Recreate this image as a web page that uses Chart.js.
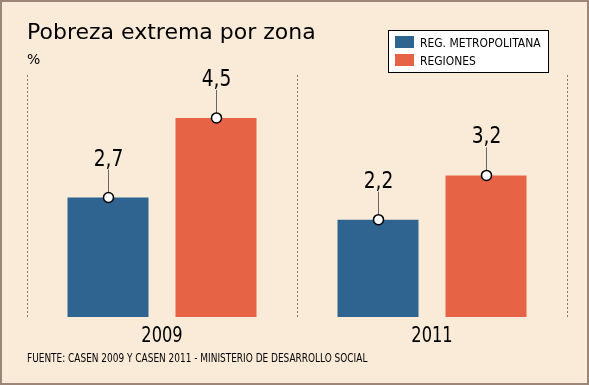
<!DOCTYPE html>
<html>
<head>
<meta charset="utf-8">
<script src="https://cdn.jsdelivr.net/npm/chart.js@4/dist/chart.umd.min.js"></script>
<style>
  html, body { margin: 0; padding: 0; background: #faebd9; }
  #wrap { position: relative; width: 585px; height: 381px; border: 2px solid #9d8577; background: #faebd9; }
  canvas { display: block; }
</style>
</head>
<body>
<div id="wrap"><canvas id="chart" width="585" height="381"></canvas></div>
<script>
const years = ['2009', '2011'];
const metropolitana = [2.7, 2.2];
const regiones = [4.5, 3.2];
const seriesNames = ['REG. METROPOLITANA', 'REGIONES'];
const colors = ['#2f6490', '#e66445'];

const COND = '"DejaVu Sans Condensed", "DejaVu Sans", sans-serif';
const WIDE = '"DejaVu Sans", Verdana, sans-serif';

// text squeezed horizontally, the original face is narrower than anything installed
function narrowText(ctx, text, x, y, font, squeeze, align) {
    ctx.save();
    ctx.font = font;
    ctx.textBaseline = 'alphabetic';
    ctx.textAlign = 'left';
    let w = ctx.measureText(text).width * squeeze;
    let left = align === 'center' ? x - w / 2 : x;
    ctx.translate(left, y);
    ctx.scale(squeeze, 1);
    ctx.fillText(text, 0, 0);
    ctx.restore();
}

// labels with leader line and white dot on top of every bar
const valueLabels = {
    id: 'valueLabels',
    afterDatasetsDraw(chart) {
        const ctx = chart.ctx;
        ctx.save();
        chart.data.datasets.forEach((ds, i) => {
            chart.getDatasetMeta(i).data.forEach((bar, j) => {
                let x = Math.round(bar.x) + 0.5, y = bar.y;
                ctx.strokeStyle = '#666';
                ctx.lineWidth = 1;
                ctx.beginPath();
                ctx.moveTo(x, y);
                ctx.lineTo(x, y - 28);
                ctx.stroke();
                ctx.beginPath();
                ctx.arc(x, y, 5, 0, Math.PI * 2);
                ctx.fillStyle = '#fff';
                ctx.fill();
                ctx.strokeStyle = '#000';
                ctx.lineWidth = 1.5;
                ctx.stroke();
                ctx.fillStyle = '#000';
                narrowText(ctx, String(ds.data[j]).replace('.', ','), x, y - 32, '23px ' + COND, 0.9, 'center');
            });
        });
        ctx.restore();
    }
};

// dashed separators, year labels, title, unit, legend box, source
const decorations = {
    id: 'decorations',
    beforeDatasetsDraw(chart) {
        const ctx = chart.ctx;
        const area = chart.chartArea;
        ctx.save();
        ctx.strokeStyle = '#777';
        ctx.lineWidth = 1;
        ctx.setLineDash([2, 2]);
        const n = years.length;
        for (let k = 0; k <= n; k++) {
            let x = Math.round(area.left + (area.right - area.left) * k / n) + 0.5;
            ctx.beginPath();
            ctx.moveTo(x, area.top);
            ctx.lineTo(x, area.bottom);
            ctx.stroke();
        }
        ctx.restore();
    },
    afterDraw(chart) {
        const ctx = chart.ctx;
        const xScale = chart.scales.x;
        ctx.save();
        ctx.fillStyle = '#000';

        years.forEach((yr, k) => {
            narrowText(ctx, yr, xScale.getPixelForTick(k), chart.chartArea.bottom + 25, '22px ' + COND, 0.82, 'center');
        });

        ctx.textAlign = 'left';
        ctx.textBaseline = 'alphabetic';
        ctx.font = '22px ' + WIDE;
        ctx.fillText('Pobreza extrema por zona', 25, 37);
        ctx.font = '14px ' + WIDE;
        ctx.fillText('%', 25, 62);

        // legend
        ctx.fillStyle = '#fff';
        ctx.fillRect(386, 28, 160, 42);
        ctx.strokeStyle = '#000';
        ctx.lineWidth = 1;
        ctx.strokeRect(386.5, 28.5, 160, 42);
        chart.data.datasets.forEach((ds, i) => {
            ctx.fillStyle = ds.backgroundColor;
            ctx.fillRect(393, 34 + i * 18, 19, 12);
            ctx.fillStyle = '#000';
            narrowText(ctx, ds.label, 418, 45 + i * 18, '13px ' + COND, 0.92, 'left');
        });

        narrowText(ctx, 'FUENTE: CASEN 2009 Y CASEN 2011 - MINISTERIO DE DESARROLLO SOCIAL', 25, 360, '12px ' + COND, 0.83, 'left');
        ctx.restore();
    }
};

new Chart(document.getElementById('chart'), {
    type: 'bar',
    data: {
        labels: years,
        datasets: [
            { label: seriesNames[0], data: metropolitana, backgroundColor: colors[0] },
            { label: seriesNames[1], data: regiones, backgroundColor: colors[1] }
        ]
    },
    options: {
        responsive: false,
        animation: false,
        layout: { padding: { left: 25, right: 20, top: 73, bottom: 58 } },
        datasets: { bar: { categoryPercentage: 0.8, barPercentage: 0.75 } },
        scales: {
            x: {
                grid: { display: false },
                border: { display: false },
                ticks: { display: false }
            },
            y: {
                display: false,
                min: 0,
                max: 5.47
            }
        },
        plugins: {
            legend: { display: false },
            tooltip: { enabled: false }
        }
    },
    plugins: [decorations, valueLabels]
});
</script>
</body>
</html>
